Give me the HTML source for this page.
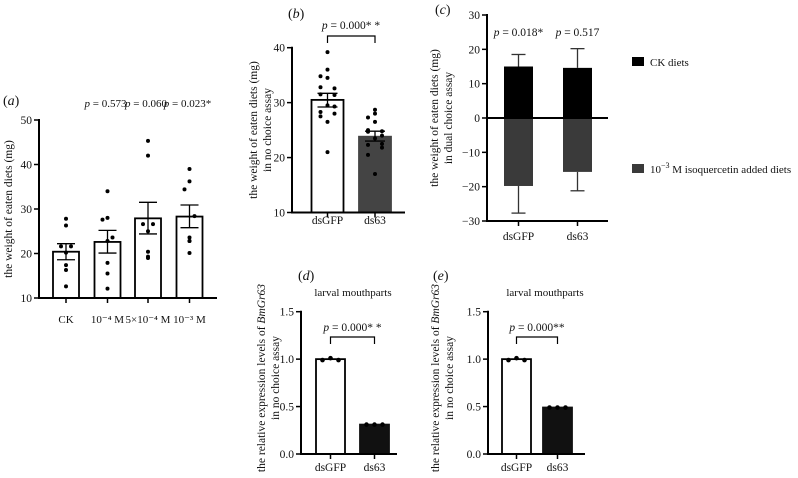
<!DOCTYPE html>
<html><head><meta charset="utf-8">
<style>
html,body{margin:0;padding:0;background:#fff;}
svg{display:block;font-family:"Liberation Serif",serif;}
text{fill:#111;}
</style></head>
<body>
<svg id="fig" width="798" height="478" viewBox="0 0 798 478" xmlns="http://www.w3.org/2000/svg"></svg>
<script>
// ---- Panel a data ----
const aCats = ["CK", "10\u207B\u2074 M", "5×10\u207B\u2074 M", "10\u207B\u00B3 M"];
const aMeans = [20.4, 22.6, 27.9, 28.3];
const aErrLo = [18.6, 20.1, 24.4, 25.8];
const aErrHi = [22.2, 25.2, 31.5, 30.9];
const aPoints = [
  [27.8, 26.3, 21.6, 21.6, 20.2, 17.4, 16.3, 12.6],
  [34.0, 28.0, 27.6, 23.6, 22.8, 17.9, 15.5, 12.1],
  [45.3, 42.0, 26.6, 26.6, 25.0, 20.4, 19.0, 19.3],
  [39.0, 36.2, 34.4, 28.4, 23.6, 22.8, 22.8, 20.1]
];
const aTicks = [10, 20, 30, 40, 50];
const aPvals = ["", "p = 0.573", "p = 0.060", "p = 0.023*"];
// ---- Panel b data ----
const bCats = ["dsGFP", "ds63"];
const bMeans = [30.5, 23.8];
const bErrLo = [29.2, 23.0];
const bErrHi = [31.7, 24.8];
const bPoints = [
  [39.2, 36.0, 34.8, 34.5, 32.8, 32.6, 31.5, 31.4, 29.5, 29.3, 28.3, 28.0, 27.5, 26.5, 21.0],
  [28.7, 28.0, 27.3, 26.5, 25.0, 24.8, 24.7, 24.0, 23.5, 22.5, 22.3, 21.8, 20.5, 17.0]
];
const bTicks = [10, 20, 30, 40];
// ---- Panel c data ----
const cCats = ["dsGFP", "ds63"];
const cCK = [15.0, 14.6];
const cCKErr = [18.5, 20.2];
const cIso = [-19.8, -15.7];
const cIsoErr = [-27.7, -21.2];
const cTicks = [-30, -20, -10, 0, 10, 20, 30];
const cPvals = ["p = 0.018*", "p = 0.517"];
// ---- Panel d/e data ----
const dCats = ["dsGFP", "ds63"];
const dMeans = [1.0, 0.31];
const dPoints = [[0.99, 1.01, 0.99], [0.31, 0.31, 0.31]];
const eMeans = [1.0, 0.49];
const ePoints = [[0.99, 1.01, 0.99], [0.49, 0.49, 0.49]];
const deTicks = [0.0, 0.5, 1.0, 1.5];

const FS = 11.5;
const svg = document.getElementById('fig');
const NS = "http://www.w3.org/2000/svg";
function el(tag, attrs, txt){
  const e = document.createElementNS(NS, tag);
  for (const k in attrs) e.setAttribute(k, attrs[k]);
  if (txt !== undefined) e.textContent = txt;
  svg.appendChild(e);
  return e;
}
function lin(d0, d1, r0, r1){ return v => r0 + (v - d0) * (r1 - r0) / (d1 - d0); }

function yAxis(x, y, ticks, fmt, name){
  const t0 = y(ticks[0]), t1 = y(ticks[ticks.length-1]);
  const ax = el('line', {x1:x, x2:x, y1:Math.max(t0,t1)+1, y2:Math.min(t0,t1)-1, stroke:'#000','stroke-width':2});
  
  
  ticks.forEach(v => {
    const tk = el('line', {x1:x-5, x2:x, y1:y(v), y2:y(v), stroke:'#000','stroke-width':1.5});
    
    
    const tl = el('text', {x:x-7, y:y(v)+4, 'text-anchor':'end','font-size':FS}, fmt(v));
    
    
  });
}
function xAxis(x0, x1, y, centers, cats, name, labelY, fs){
  const ax = el('line', {x1:x0, x2:x1, y1:y, y2:y, stroke:'#000','stroke-width':2});
  
  
  centers.forEach((c, i) => {
    const tk = el('line', {x1:c, x2:c, y1:y, y2:y+5, stroke:'#000','stroke-width':1.5});
    
    
    const tl = el('text', {x:c, y:labelY, 'text-anchor':'middle','font-size':fs||FS}, cats[i]);
    
    
  });
}
function errBar(cx, yLo, yHi, half, color, name){
  const g = [
    el('line', {x1:cx, x2:cx, y1:yLo, y2:yHi, stroke:color,'stroke-width':1.3}),
    el('line', {x1:cx-half, x2:cx+half, y1:yLo, y2:yLo, stroke:color,'stroke-width':1.3}),
    el('line', {x1:cx-half, x2:cx+half, y1:yHi, y2:yHi, stroke:color,'stroke-width':1.3})
  ];
  g.forEach(e => {
    
    
  });
}
function label(x, y, txt, opts, name){
  const t = el('text', Object.assign({x:x, y:y, 'font-size':FS}, opts||{}));
  t.innerHTML = txt;
  
  
  return t;
}
function pLabel(x, y, val, anchor, name, fs){
  const rest = val.replace(/^p = /, ' = ');
  return label(x, y, '<tspan font-style="italic">p</tspan>' + rest, {'text-anchor':anchor||'middle','font-size':fs||FS}, name);
}
function bracket(x1, x2, yTop, yBot, name){
  const p = el('path', {d:`M${x1},${yBot} L${x1},${yTop} L${x2},${yTop} L${x2},${yBot}`, fill:'none', stroke:'#000','stroke-width':1.2});
  
  
}
function vLabel(cx, cy, lines, name, gap){
  lines.forEach((ln, i) => {
    const x = cx + (i - (lines.length-1)/2) * (gap||14);
    const t = el('text', {x:0, y:0, 'text-anchor':'middle','font-size':FS, transform:`translate(${x+4},${cy}) rotate(-90)`});
    t.innerHTML = ln;
    
    
  });
}

// ================= Panel a =================
(function(){
  const y = lin(10, 50, 298, 120);
  const centers = [66, 107.5, 148, 189.5];
  const bw = 26;
  label(3, 105, '(<tspan font-style="italic">a</tspan>)', {'font-size':14}, 'panel-a-letter');
  vLabel(8, 209, ['the weight of eaten diets (mg)'], 'panel-a-y-axis-title');
  aMeans.forEach((m, i) => {
    const r = el('rect', {x:centers[i]-bw/2, y:y(m), width:bw, height:y(10)-y(m), fill:'#fff', stroke:'#000','stroke-width':1.8});
    
    
    errBar(centers[i], y(aErrLo[i]), y(aErrHi[i]), 9, '#000', 'panel-a-error-bar');
    aPoints[i].forEach((v, j) => {
      const off = [0, 0, -5, 5, 0, 0, 0, 0][j];
      const c = el('circle', {cx:centers[i]+off, cy:y(v), r:2, fill:'#000'});
      
      
    });
    if (aPvals[i]) pLabel(centers[i]-2, 107, aPvals[i], 'middle', 'panel-a-p-value', 11);
  });
  yAxis(39, y, aTicks, v => String(v), 'panel-a');
  xAxis(38, 217, y(10), centers, aCats, 'panel-a', 323, 11);
})();

// ================= Panel b =================
(function(){
  const y = lin(10, 40, 212.5, 47.7);
  const centers = [327.5, 375];
  const bw = 32;
  label(288, 18, '(<tspan font-style="italic">b</tspan>)', {'font-size':14}, 'panel-b-letter');
  vLabel(260, 130, ['the weight of eaten diets (mg)', 'in no choice assay'], 'panel-b-y-axis-title');
  const fills = ['#fff', '#444'];
  bMeans.forEach((m, i) => {
    const r = el('rect', {x:centers[i]-bw/2, y:y(m), width:bw, height:y(10)-y(m), fill:fills[i], stroke: i===0?'#000':'#444','stroke-width':1.8});
    
    
    bPoints[i].forEach((v, j) => {
      const off = [0, 0, -7, 0, -7, 7, -7, 7, 0, 7, -7, 7, -7, 0, 0][j] || 0;
      const c = el('circle', {cx:centers[i]+off, cy:y(v), r:2, fill:'#000'});
      
      
    });
    errBar(centers[i], y(bErrLo[i]), y(bErrHi[i]), 10, '#000', 'panel-b-error-bar');
  });
  yAxis(292, y, bTicks, v => String(v), 'panel-b');
  xAxis(291, 405, y(10), centers, bCats, 'panel-b', 224);
  bracket(centers[0], centers[1], 36, 43, 'panel-b-significance-bracket');
  pLabel(351, 29, 'p = 0.000* *', 'middle', 'panel-b-p-value');
})();

// ================= Panel c =================
(function(){
  const y = lin(-30, 30, 221, 15);
  const centers = [518.5, 577.5];
  const bw = 29;
  label(435, 14, '(<tspan font-style="italic">c</tspan>)', {'font-size':14}, 'panel-c-letter');
  vLabel(441, 118, ['the weight of eaten diets (mg)', 'in dual choice assay'], 'panel-c-y-axis-title');
  cCK.forEach((v, i) => {
    const r = el('rect', {x:centers[i]-bw/2, y:y(v), width:bw, height:y(0)-y(v), fill:'#000'});
    
    
    const r2 = el('rect', {x:centers[i]-bw/2, y:y(0), width:bw, height:y(cIso[i])-y(0), fill:'#3a3a3a'});
    
    
    const e1 = el('line', {x1:centers[i], x2:centers[i], y1:y(v), y2:y(cCKErr[i]), stroke:'#333','stroke-width':1.3});
    
    
    const e2 = el('line', {x1:centers[i]-7, x2:centers[i]+7, y1:y(cCKErr[i]), y2:y(cCKErr[i]), stroke:'#333','stroke-width':1.3});
    
    
    const e3 = el('line', {x1:centers[i], x2:centers[i], y1:y(cIso[i]), y2:y(cIsoErr[i]), stroke:'#333','stroke-width':1.3});
    
    
    const e4 = el('line', {x1:centers[i]-7, x2:centers[i]+7, y1:y(cIsoErr[i]), y2:y(cIsoErr[i]), stroke:'#333','stroke-width':1.3});
    
    
    pLabel(centers[i], 36, cPvals[i], 'middle', 'panel-c-p-value');
  });
  const z = el('line', {x1:487, x2:608, y1:y(0), y2:y(0), stroke:'#000','stroke-width':2});
  
  
  yAxis(487, y, cTicks, v => v < 0 ? '\u2212' + Math.abs(v) : String(v), 'panel-c');
  xAxis(486, 608, y(-30), centers, cCats, 'panel-c', 240);
  // legend
  const l1 = el('rect', {x:632, y:57, width:12, height:9, fill:'#000'});
  
  
  label(650, 66, 'CK diets', {'font-size':11}, 'legend-label-ck-diets');
  const l2 = el('rect', {x:632, y:164, width:12, height:9, fill:'#3a3a3a'});
  
  
  label(650, 173, '10<tspan font-size="8" dy="-5">\u22123</tspan><tspan dy="5"> M isoquercetin added diets</tspan>', {'font-size':11}, 'legend-label-isoquercetin');
})();

// ================= Panel d & e =================
function qpcr(opts){
  const y = lin(0, 1.5, 454, 311.7);
  const bw = 29;
  label(opts.letterX, 280, '(<tspan font-style="italic">' + opts.letter + '</tspan>)', {'font-size':14}, opts.name + '-letter');
  vLabel(opts.labelX, 378, ['the relative expression levels of <tspan font-style="italic">BmGr63</tspan>', 'in no choice assay'], opts.name + '-y-axis-title');
  label(opts.titleX, 296, 'larval mouthparts', {'text-anchor':'middle','font-size':11}, opts.name + '-title');
  const fills = ['#fff', '#111'];
  opts.means.forEach((m, i) => {
    const r = el('rect', {x:opts.centers[i]-bw/2, y:y(m), width:bw, height:y(0)-y(m), fill:fills[i], stroke:i===0?'#000':'#111','stroke-width':1.8});
    
    
    opts.points[i].forEach((v, j) => {
      const c = el('circle', {cx:opts.centers[i] + (j-1)*8, cy:y(v), r:2.3, fill:'#000'});
      
      
    });
  });
  yAxis(opts.axisX, y, deTicks, v => v.toFixed(1), opts.name);
  xAxis(opts.axisX-1, opts.axisEnd, y(0), opts.centers, dCats, opts.name, 471);
  bracket(opts.centers[0], opts.centers[1], 337, 344, opts.name + '-significance-bracket');
  pLabel((opts.centers[0]+opts.centers[1])/2, 331, opts.p, 'middle', opts.name + '-p-value');
}
qpcr({name:'panel-d', letter:'d', letterX:298, labelX:268, titleX:353, axisX:301, axisEnd:397,
      centers:[330.5, 374.5], means:dMeans, points:dPoints, p:'p = 0.000* *'});
qpcr({name:'panel-e', letter:'e', letterX:433, labelX:442, titleX:545, axisX:488, axisEnd:585,
      centers:[516.5, 557.5], means:eMeans, points:ePoints, p:'p = 0.000**'});
</script>
</body></html>
